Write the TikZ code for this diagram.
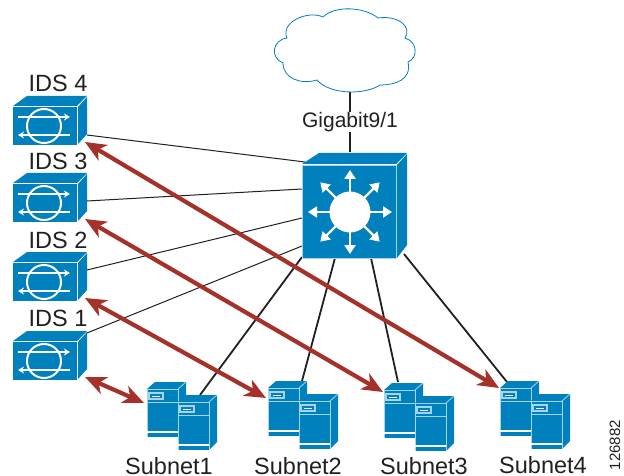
\documentclass[tikz,border=0pt]{standalone}
\usepackage{fontspec}
\setmainfont{Liberation Sans}
\usetikzlibrary{arrows.meta}
\definecolor{ciscoblue}{HTML}{0080BC}
\definecolor{edgeblue}{HTML}{A5D5EA}
\definecolor{linkred}{HTML}{A5322A}
\definecolor{inktext}{HTML}{231F20}
\tikzset{
	face/.style={fill=ciscoblue, draw=edgeblue, line width=0.7pt, line join=round},
	link/.style={draw=inktext, line width=1.2pt},
	mirror/.style={<->, >={Stealth[length=21pt, width=18pt, inset=6pt]}, draw=linkred, line width=4.2pt},
	lbl/.style={text=inktext, inner sep=0pt, font=\fontsize{23.5}{25}\selectfont},
	idsbox/.pic={
		\fill[ciscoblue] (0,-1) -- (14,-11) -- (74,-11) -- (64,-1) -- cycle;
		\fill[ciscoblue] (65,0) -- (74,-10) -- (74,27) -- (65,37) -- cycle;
		\fill[ciscoblue] (0,0) rectangle (64,38);
		\draw[white, line width=2pt] (31,19) circle [radius=17];
		\draw[white, line width=1.4pt, -{Stealth[length=6pt, width=7pt]}] (5,10) -- (57,10);
		\draw[white, line width=1.4pt, -{Stealth[length=6pt, width=7pt]}] (57,28) -- (5,28);
		\coordinate (-tip) at (72,35);
	},
	serverbox/.pic={
		\fill[ciscoblue] (0,0) -- (8,-7) -- (39,-7) -- (31,0) -- cycle;
		\fill[ciscoblue] (31,0) -- (39,-7) -- (39,40) -- (31,48) -- cycle;
		\draw[edgeblue, line width=0.8pt] (31,0) -- (39,-7);
		\fill[ciscoblue] (0,0) rectangle (31,48);
		\draw[edgeblue, line width=0.8pt] (0,48) -- (0,0) -- (31,0) -- (31,48);
		\draw[edgeblue, line width=1pt] (0,13) -- (31,13);
		\draw[edgeblue, line width=1.1pt] (2,4) rectangle (16,10);
		\draw[white, line width=1pt] (5,7) -- (13,7);
		\draw[white, line width=1.5pt] (0,43) -- (31,43);
	},
	serverpair/.pic={
		\pic at (0,0) {serverbox};
		\pic at (31,13) {serverbox};
	}
}
\begin{document}
\begin{tikzpicture}[x=1pt, y=-1pt]
	\useasboundingbox (0,0) rectangle (624,476);

	% link ends
	\coordinate (cloudport) at (350,91);
	\coordinate (idsport4) at (87,135);
	\coordinate (idsport3) at (87,201);
	\coordinate (idsport2) at (87,270);
	\coordinate (idsport1) at (87,333);
	\coordinate (sw4) at (305,162);
	\coordinate (sw3) at (302,189);
	\coordinate (sw2) at (302,218);
	\coordinate (sw1) at (302,246);
	\coordinate (swa) at (302,257);
	\coordinate (swb) at (335,258);
	\coordinate (swc) at (371,258);
	\coordinate (swd) at (404,254);
	\coordinate (swtop) at (350,152);
	\coordinate (sub1port) at (200,395);
	\coordinate (sub2port) at (302,381);
	\coordinate (sub3port) at (398,382);
	\coordinate (sub4port) at (507,382);
	\coordinate (sub1tip) at (144,403);
	\coordinate (sub2tip) at (266,398);
	\coordinate (sub3tip) at (383,392);
	\coordinate (sub4tip) at (499,388);

	\node[lbl, font=\fontsize{21}{24}\selectfont] (gig) at (350,122) {Gigabit9/1};
	\draw[link] (cloudport) -- (gig);
	\draw[link] (gig) -- (swtop);

	\pic (ids4) at (13,107) {idsbox};
	\pic (ids3) at (13,184) {idsbox};
	\pic (ids2) at (13,263) {idsbox};
	\pic (ids1) at (13,342) {idsbox};
	\node[lbl] (idslabel4) at (58,83) {IDS 4};
	\node[lbl] (idslabel3) at (58,161) {IDS 3};
	\node[lbl] (idslabel2) at (58,240) {IDS 2};
	\node[lbl] (idslabel1) at (58,318) {IDS 1};

	\draw[link, line width=1pt] (idsport4) -- (sw4);
	\draw[link, line width=1pt] (idsport3) -- (sw3);
	\draw[link, line width=1pt] (idsport2) -- (sw2);
	\draw[link, line width=1pt] (idsport1) -- (sw1);
	\draw[link, line width=1.8pt] (swa) -- (sub1port);
	\draw[link, line width=1.8pt] (swb) -- (sub2port);
	\draw[link, line width=1.8pt] (swc) -- (sub3port);
	\draw[link, line width=1.8pt] (swd) -- (sub4port);

	% cloud
	\draw[draw=ciscoblue, fill=white, line width=0.8pt] (287,38)
		.. controls (280,22) and (308,10) .. (323,17)
		.. controls (335,5) and (365,7) .. (378,18)
		.. controls (400,15) and (412,28) .. (405,38)
		.. controls (418,42) and (418,58) .. (408,62)
		.. controls (412,80) and (395,85) .. (380,85)
		.. controls (365,95) and (330,95) .. (317,80)
		.. controls (300,85) and (283,78) .. (283,63)
		.. controls (270,58) and (272,40) .. (287,38) -- cycle;

	% switch
	\fill[ciscoblue] (302,164) -- (319,153) -- (407,153) -- (396,164) -- cycle;
	\fill[ciscoblue] (397,165) -- (407,154) -- (407,245) -- (397,258) -- cycle;
	\draw[face] (302,165) rectangle (396,258);
	\fill[white] (350,212) circle [radius=20.5];
	\foreach \ang in {0,45,...,315}
		\draw[white, line width=2.2pt, -{Triangle[length=9pt, width=11pt]}] (350,212) ++(\ang:19) -- ++(\ang:23);

	\pic (sub1) at (147,389) {serverpair};
	\pic (sub2) at (268,388) {serverpair};
	\pic (sub3) at (384,390) {serverpair};
	\pic (sub4) at (500,388) {serverpair};
	\node[lbl] (sublabel1) at (169,466) {Subnet1};
	\node[lbl] (sublabel2) at (298,466) {Subnet2};
	\node[lbl] (sublabel3) at (424,466) {Subnet3};
	\node[lbl] (sublabel4) at (543,465) {Subnet4};
	\node[lbl, font=\fontsize{15}{16}\selectfont, rotate=90] (figno) at (615,445) {126882};

	\draw[mirror] (ids4-tip) -- (sub4tip);
	\draw[mirror] (ids3-tip) -- (sub3tip);
	\draw[mirror] (ids2-tip) -- (sub2tip);
	\draw[mirror] (ids1-tip) -- (sub1tip);
\end{tikzpicture}
\end{document}
